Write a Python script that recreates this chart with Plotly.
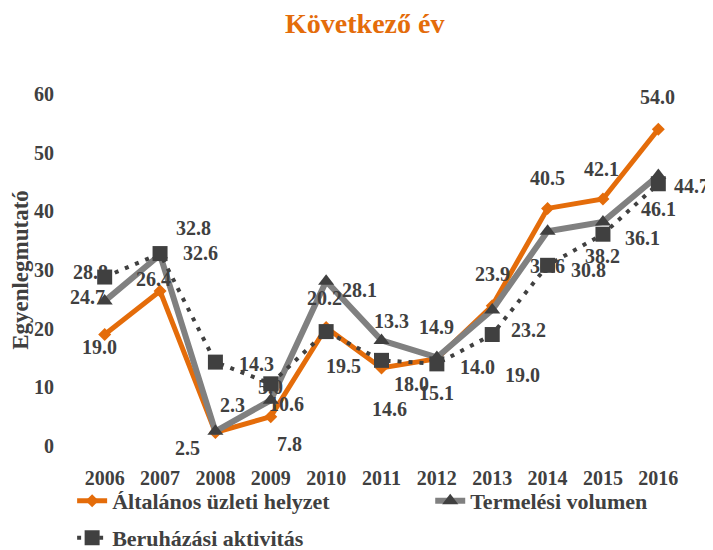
import plotly.graph_objects as go

years = ["2006", "2007", "2008", "2009", "2010", "2011", "2012", "2013", "2014", "2015", "2016"]
altalanos = [19.0, 26.4, 2.3, 5.0, 20.2, 13.3, 14.9, 23.9, 40.5, 42.1, 54.0]
termelesi = [24.7, 32.6, 2.5, 7.8, 28.1, 18.0, 15.1, 23.2, 36.6, 38.2, 46.1]
beruhazasi = [28.8, 32.8, 14.3, 10.6, 19.5, 14.6, 14.0, 19.0, 30.8, 36.1, 44.7]
y_ticks = [0, 10, 20, 30, 40, 50, 60]

# data-label pixel offsets (dx right, dy down) relative to each point
off_alt = [(-5, 12), (-7, -12), (17, -28), (0, -30), (-2, -29), (10, -47),
           (0, -32), (0, -32), (0, -30), (-1, -30), (-1, -32)]
off_ter = [(-17, -4), (40, -2), (-28, 17), (19, 44), (33, 9), (30, 44),
           (0, 36), (36, 20), (0, 35), (0, 34), (0, 33)]
off_ber = [(-14, -5), (33, -26), (41, 2), (16, 20), (17, 34), (8, 49),
           (41, 3), (30, 40), (41, 5), (40, 4), (33, 2)]

FONT = "Palatino Linotype, Book Antiqua, Liberation Serif, serif"
DARK = "#404040"
ORANGE = "#E46C0A"
GRAY = "#808080"
lab_font = dict(family=FONT, size=20, color=DARK, weight="bold")
leg_font = dict(family=FONT, size=22, color=DARK, weight="bold")

fig = go.Figure()
fig.add_trace(go.Scatter(
    x=years, y=altalanos, name="Általános üzleti helyzet", mode="lines+markers",
    line=dict(color=ORANGE, width=5), marker=dict(symbol="diamond", size=10, color=ORANGE),
    legend="legend"))
fig.add_trace(go.Scatter(
    x=years, y=termelesi, name="Termelési volumen", mode="lines+markers",
    line=dict(color=GRAY, width=6), marker=dict(symbol="triangle-up", size=14, color=DARK),
    legend="legend3"))
fig.add_trace(go.Scatter(
    x=years, y=beruhazasi, name="Beruházási aktivitás", mode="lines+markers",
    line=dict(color=DARK, width=4, dash="4px,7px"), marker=dict(symbol="square", size=15, color=DARK),
    legend="legend2"))

annotations = []
for values, offsets in ((altalanos, off_alt), (termelesi, off_ter), (beruhazasi, off_ber)):
    for i, (v, (dx, dy)) in enumerate(zip(values, offsets)):
        annotations.append(dict(x=i, y=v, xref="x", yref="y", text=f"{v:.1f}", showarrow=False,
                                xanchor="center", yanchor="middle", xshift=dx, yshift=-dy,
                                font=lab_font))

fig.update_layout(
    width=705, height=542,
    margin=dict(l=69, r=27, t=86, b=104, autoexpand=False),
    paper_bgcolor="white", plot_bgcolor="white",
    title=dict(text="Következő év", x=0.506, xanchor="center", y=0.972, yanchor="middle",
               font=dict(family=FONT, size=28, color=ORANGE, weight="bold")),
    font=dict(family=FONT, color=DARK),
    annotations=annotations,
    xaxis=dict(type="category", range=[-0.5, 10.5], showgrid=False, showline=False, zeroline=False,
               ticks="outside", ticklen=14, tickcolor="rgba(0,0,0,0)",
               tickfont=dict(family=FONT, size=20, color=DARK, weight="bold")),
    yaxis=dict(range=[0, 60], tickvals=y_ticks, showgrid=False, showline=False, zeroline=False,
               automargin=False,
               ticks="outside", ticklen=18, tickcolor="rgba(0,0,0,0)",
               tickfont=dict(family=FONT, size=20, color=DARK, weight="bold"),
               title=dict(text="Egyenlegmutató", standoff=2,
                          font=dict(family=FONT, size=23, color=DARK, weight="bold"))),
    legend=dict(orientation="h", x=-0.008, xanchor="left", y=-0.0965, yanchor="top",
                font=leg_font, bgcolor="rgba(0,0,0,0)"),
    legend3=dict(orientation="h", x=0.580, xanchor="left", y=-0.0965, yanchor="top",
                 font=leg_font, bgcolor="rgba(0,0,0,0)"),
    legend2=dict(orientation="h", x=-0.008, xanchor="left", y=-0.2015, yanchor="top",
                 font=leg_font, bgcolor="rgba(0,0,0,0)"),
    showlegend=True,
)

fig.write_html("out.html")
